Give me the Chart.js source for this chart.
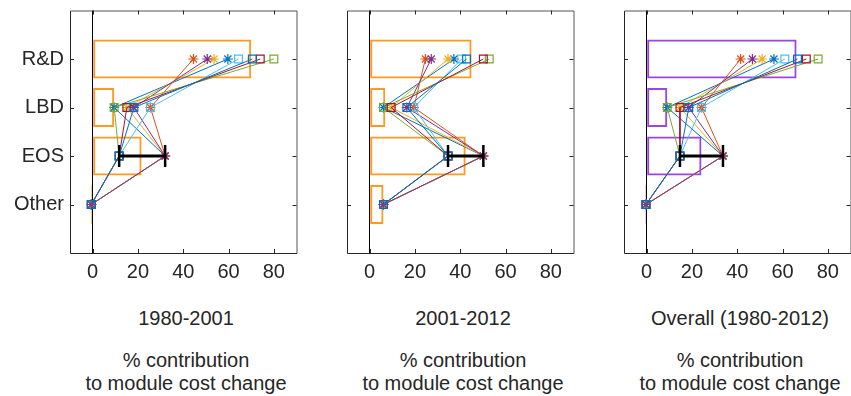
<!DOCTYPE html>
<html>
<head>
<meta charset="utf-8">
<script src="https://cdn.jsdelivr.net/npm/chart.js@4"></script>
<style>
  html, body { margin: 0; padding: 0; background: #fff; overflow: hidden; }
  #wrap { position: relative; width: 851px; height: 396px; overflow: hidden; }
  .panel { position: absolute; top: -3px; width: 310px; height: 293px; }
  .caption {
    position: absolute; width: 232px; text-align: center; white-space: nowrap;
    font-family: "Liberation Sans", Arial, sans-serif; font-size: 20px;
    line-height: 23px; color: #262626;
  }
</style>
</head>
<body>
<div id="wrap">
  <div class="panel" style="left:0px"><canvas id="p0"></canvas></div>
  <div class="panel" style="left:277px"><canvas id="p1"></canvas></div>
  <div class="panel" style="left:554px"><canvas id="p2"></canvas></div>

  <div class="caption" style="left:70px; top:307px">1980-2001</div>
  <div class="caption" style="left:347px; top:307px">2001-2012</div>
  <div class="caption" style="left:624px; top:307px">Overall (1980-2012)</div>
  <div class="caption" style="left:70px; top:349px">% contribution<br>to module cost change</div>
  <div class="caption" style="left:347px; top:349px">% contribution<br>to module cost change</div>
  <div class="caption" style="left:624px; top:349px">% contribution<br>to module cost change</div>
</div>

<script>
// categories top to bottom, placed at 1..4 on a reversed linear axis
const categories = ["R&D", "LBD", "EOS", "Other"];
const rows = [1, 2, 3, 4];
const xTicks = [0, 20, 40, 60, 80];

// central estimate per period (drawn as outlined bars)
const bars1980 = [70, 9.5, 21.6, -0.6];
const bars2001 = [45, 6.9, 42.4, 6.1];
const barsAll = [66.2, 9.1, 24.2, -0.5];

// one row per sensitivity case: [R&D, LBD, EOS, Other]
const cases1980 = [
  [59.7, 9.5, 32, -0.6],
  [44.5, 25.5, 32, -0.6],
  [53.6, 15.1, 32, -0.6],
  [50.6, 18.2, 32, -0.6],
  [80, 9.5, 11.7, -0.6],
  [64.4, 25.5, 11.7, -0.6],
  [74, 15.1, 11.7, -0.6],
  [70.5, 18.2, 11.7, -0.6]
];
const cases2001 = [
  [37.2, 6.1, 50.2, 6.1],
  [24.6, 19.5, 50.2, 6.1],
  [34.6, 9.5, 50.2, 6.1],
  [27.2, 16.4, 50.2, 6.1],
  [52.8, 6.1, 34.6, 6.1],
  [40.6, 19.5, 34.6, 6.1],
  [50.2, 9.5, 34.6, 6.1],
  [42.8, 16.4, 34.6, 6.1]
];
const casesAll = [
  [56.2, 9.1, 33.7, -0.3],
  [41.5, 24.2, 33.7, -0.3],
  [51, 14.7, 33.7, -0.3],
  [46.7, 18.6, 33.7, -0.3],
  [75.7, 9.1, 14.7, -0.3],
  [61, 24.2, 14.7, -0.3],
  [70.5, 14.7, 14.7, -0.3],
  [66.6, 18.6, 14.7, -0.3]
];

const caseColors = ["#0072BD", "#D95319", "#EDB120", "#7E2F8E",
                    "#77AC30", "#4DBEEE", "#A2142F", "#0072BD"];
const caseMarkers = ["star", "star", "star", "star", "rect", "rect", "rect", "rect"];

const font = { family: "'Liberation Sans', Arial, sans-serif", size: 20 };

// box around the axes with inward tick marks
const framePlugin = {
  id: "frame",
  beforeDatasetsDraw(chart) {
    const { ctx, chartArea: a, scales } = chart;
    ctx.save();
    ctx.lineWidth = 1;
    ctx.strokeStyle = "#262626";
    ctx.beginPath();
    ctx.moveTo(a.left + 0.5, a.top + 0.5);
    ctx.lineTo(a.left + 0.5, a.bottom + 0.5);
    ctx.lineTo(a.right + 0.5, a.bottom + 0.5);
    ctx.stroke();
    ctx.strokeStyle = "#555";
    ctx.beginPath();
    ctx.moveTo(a.left + 0.5, a.top + 0.5);
    ctx.lineTo(a.right + 0.5, a.top + 0.5);
    ctx.lineTo(a.right + 0.5, a.bottom + 0.5);
    ctx.stroke();
    ctx.strokeStyle = "#262626";
    ctx.beginPath();
    scales.y.ticks.forEach(t => {
      const py = Math.round(scales.y.getPixelForValue(t.value)) + 0.5;
      ctx.moveTo(a.left, py); ctx.lineTo(a.left + 4, py);
      ctx.moveTo(a.right, py); ctx.lineTo(a.right - 4, py);
    });
    scales.x.ticks.forEach(t => {
      const px = Math.round(scales.x.getPixelForValue(t.value)) + 0.5;
      ctx.moveTo(px, a.bottom); ctx.lineTo(px, a.bottom - 4);
      ctx.moveTo(px, a.top); ctx.lineTo(px, a.top + 4);
    });
    ctx.stroke();
    ctx.restore();
  }
};

// keep the plot box at a fixed size, whatever the tick labels need
function fixBox(s, size) {
  if (s.isHorizontal()) s.height = size; else s.width = size;
  s.paddingTop = 0;
  s.paddingBottom = 0;
  s.paddingLeft = 0;
  s.paddingRight = 0;
}

function drawPanel(id, bars, cases, barColor, showLabels) {
  const eos = cases.map(c => c[2]);
  const datasets = [];

  // spread of the EOS contribution across cases
  datasets.push({
    type: "line",
    data: [{ x: Math.min(...eos), y: rows[2] }, { x: Math.max(...eos), y: rows[2] }],
    borderColor: "#000",
    borderWidth: 3,
    pointStyle: "line",
    pointRotation: 90,
    pointRadius: 11,
    pointBorderWidth: 2.5,
    pointBorderColor: "#000",
    order: 0
  });

  cases.forEach((vals, i) => {
    datasets.push({
      type: "line",
      data: vals.map((v, k) => ({ x: v, y: rows[k] })),
      borderColor: caseColors[i],
      borderWidth: 1,
      pointStyle: caseMarkers[i],
      pointRadius: caseMarkers[i] === "star" ? 5 : 5.5,
      pointBorderWidth: 1.2,
      pointBorderColor: caseColors[i],
      pointBackgroundColor: "rgba(0,0,0,0)",
      order: cases.length - i
    });
  });

  datasets.push({
    type: "bar",
    data: bars.map((v, k) => ({ x: v, y: rows[k] })),
    borderColor: barColor,
    backgroundColor: "rgba(0,0,0,0)",
    borderWidth: 2,
    borderSkipped: false,
    barPercentage: 0.8,
    categoryPercentage: 1,
    order: 20
  });

  new Chart(document.getElementById(id), {
    type: "bar",
    data: { datasets },
    plugins: [framePlugin],
    options: {
      indexAxis: "y",
      responsive: true,
      maintainAspectRatio: false,
      animation: false,
      layout: { padding: { top: 6, right: 8.5, left: 0, bottom: 0 } },
      plugins: { legend: { display: false }, tooltip: { enabled: false } },
      scales: {
        x: {
          type: "linear",
          min: -10,
          max: 90,
          offset: false,
          afterBuildTicks: s => { s.ticks = xTicks.map(v => ({ value: v })); },
          afterFit: s => fixBox(s, 37),
          ticks: { font, color: "#262626", padding: 7, maxRotation: 0 },
          grid: {
            color: c => (c.tick && c.tick.value === 0 ? "#000" : "rgba(0,0,0,0)"),
            lineWidth: 1,
            drawTicks: false,
            offset: false
          },
          border: { display: false }
        },
        y: {
          type: "linear",
          reverse: true,
          min: 0,
          max: 5,
          offset: false,
          afterBuildTicks: s => { s.ticks = rows.map(v => ({ value: v })); },
          afterFit: s => fixBox(s, 70),
          ticks: {
            font,
            color: "#262626",
            padding: 6,
            callback: v => (showLabels ? categories[v - 1] : "")
          },
          grid: { display: false, drawTicks: false, offset: false },
          border: { display: false }
        }
      }
    }
  });
}

drawPanel("p0", bars1980, cases1980, "#FF9A1E", true);
drawPanel("p1", bars2001, cases2001, "#FF9A1E", false);
drawPanel("p2", barsAll, casesAll, "#9B45E6", false);
</script>
</body>
</html>
